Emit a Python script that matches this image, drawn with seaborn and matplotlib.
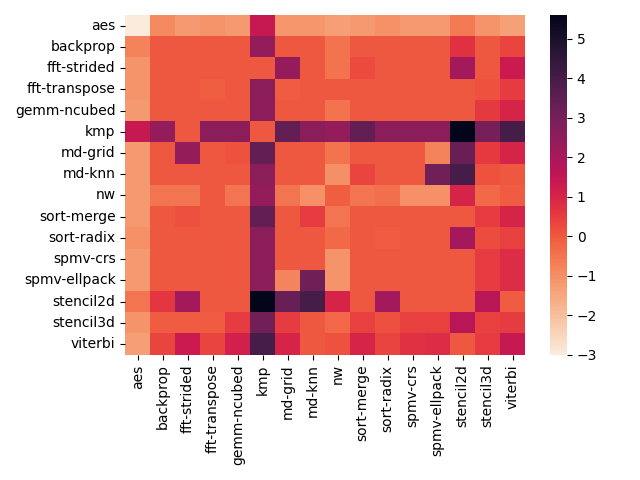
import numpy as np
import pandas as pd
import matplotlib
matplotlib.use('Agg')
import matplotlib.pyplot as plt
import seaborn as sns

# Benchmarks (rows and columns)
benchmarks = ['aes', 'backprop', 'fft-strided', 'fft-transpose', 'gemm-ncubed',
              'kmp', 'md-grid', 'md-knn', 'nw', 'sort-merge', 'sort-radix',
              'spmv-crs', 'spmv-ellpack', 'stencil2d', 'stencil3d', 'viterbi']

# Values, one list per row
aes =          [-3.0, -0.9, -1.2, -1.1, -1.2, 1.4, -1.15, -1.15, -1.3, -1.2, -1.05, -1.2, -1.2, -0.6, -1.1, -1.35]
backprop =     [-0.75, 0.0, 0.0, 0.0, 0.0, 2.4, 0.0, 0.0, -0.45, 0.0, 0.0, 0.0, 0.0, 0.7, 0.0, 0.35]
fft_strided =  [-1.1, 0.0, 0.0, 0.0, 0.0, 0.0, 2.4, 0.0, -0.45, 0.25, 0.0, 0.0, 0.0, 2.1, 0.0, 1.3]
fft_transpose = [-1.1, 0.0, 0.0, -0.1, 0.0, 2.6, -0.05, 0.0, 0.0, 0.0, 0.0, 0.0, 0.0, 0.0, 0.1, 0.5]
gemm_ncubed =  [-1.2, 0.0, 0.0, 0.0, 0.0, 2.6, 0.0, 0.0, -0.45, 0.0, 0.0, 0.0, 0.0, 0.0, 0.55, 1.0]
kmp =          [1.4, 2.4, 0.0, 2.6, 2.6, 0.0, 3.4, 2.6, 2.4, 3.4, 2.6, 2.6, 2.6, 5.6, 3.0, 4.0]
md_grid =      [-1.2, 0.0, 2.4, 0.0, 0.1, 3.4, 0.0, 0.0, -0.45, 0.0, 0.0, 0.0, -0.75, 3.3, 0.55, 1.0]
md_knn =       [-1.2, 0.0, 0.0, 0.0, 0.0, 2.6, 0.0, 0.0, -1.0, 0.35, 0.0, 0.0, 3.1, 4.0, 0.1, 0.0]
nw =           [-1.2, -0.5, -0.5, 0.0, -0.5, 2.4, -0.5, -1.05, -0.1, -0.5, -0.4, -1.05, -1.05, 1.0, -0.3, -0.05]
sort_merge =   [-1.2, 0.0, 0.15, 0.0, 0.0, 3.4, 0.0, 0.5, -0.5, 0.0, 0.0, 0.0, 0.0, 0.0, 0.5, 1.0]
sort_radix =   [-1.05, 0.0, 0.0, 0.0, 0.0, 2.6, 0.0, 0.0, -0.3, 0.0, -0.05, 0.0, 0.0, 2.1, 0.2, 0.45]
spmv_crs =     [-1.2, 0.0, 0.0, 0.0, 0.0, 2.6, 0.0, 0.0, -1.1, 0.0, 0.0, 0.0, 0.0, 0.0, 0.5, 0.8]
spmv_ellpack = [-1.2, 0.0, 0.0, 0.0, 0.0, 2.6, -0.8, 3.1, -1.1, 0.0, 0.0, 0.0, 0.0, 0.0, 0.5, 0.8]
stencil2d =    [-0.5, 0.6, 2.1, 0.0, 0.0, 5.6, 3.3, 4.0, 1.0, 0.0, 2.1, 0.0, 0.0, 0.0, 1.7, -0.05]
stencil3d =    [-1.1, -0.05, -0.05, -0.05, 0.5, 3.1, 0.5, 0.0, -0.25, 0.45, 0.15, 0.45, 0.45, 1.7, 0.45, 0.5]
viterbi =      [-1.3, 0.35, 1.3, 0.35, 1.1, 4.0, 1.0, 0.0, 0.1, 1.0, 0.35, 0.7, 0.8, 0.0, 0.5, 1.4]

rows = [aes, backprop, fft_strided, fft_transpose, gemm_ncubed, kmp, md_grid, md_knn,
        nw, sort_merge, sort_radix, spmv_crs, spmv_ellpack, stencil2d, stencil3d, viterbi]
df = pd.DataFrame(rows, index=benchmarks, columns=benchmarks)

plt.figure(figsize=(6.4, 4.8), dpi=100)
sns.heatmap(df, cmap='rocket_r')
plt.tight_layout()
plt.savefig('out.png')
plt.close()
